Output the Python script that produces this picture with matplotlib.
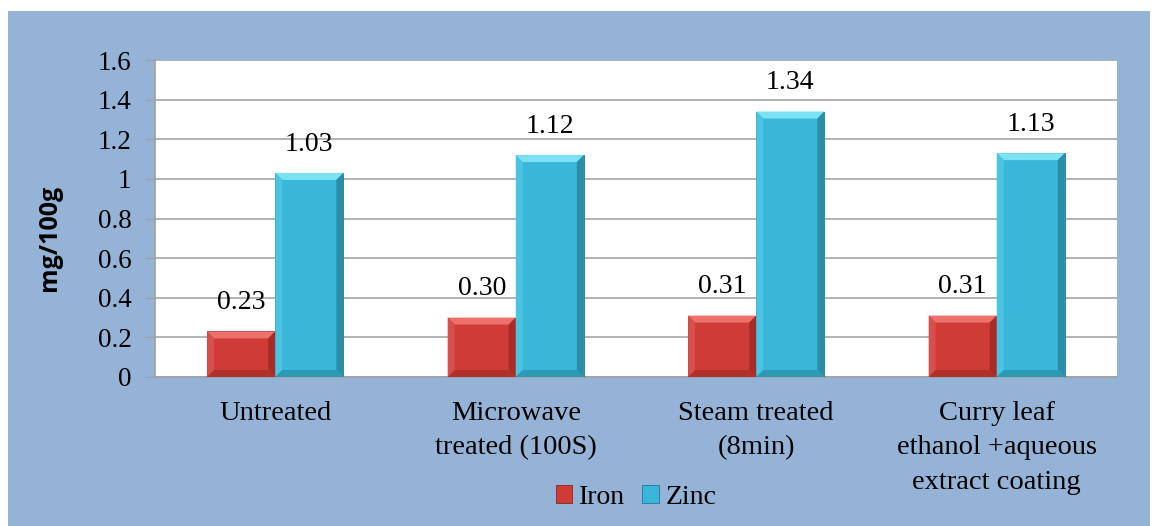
import numpy as np
import matplotlib.pyplot as plt
from matplotlib.patches import Rectangle, Polygon

categories = ['Untreated', 'Microwave\ntreated (100S)', 'Steam treated\n(8min)',
              'Curry leaf\nethanol +aqueous\nextract coating']
iron = [0.23, 0.30, 0.31, 0.31]
zinc = [1.03, 1.12, 1.34, 1.13]
iron_labels = ['0.23', '0.30', '0.31', '0.31']
zinc_labels = ['1.03', '1.12', '1.34', '1.13']

serif = ['Liberation Serif', 'DejaVu Serif']
blue_bg = '#95B3D7'

# face, top, left, right, bottom shades for the bevel look
red_shades = ['#CF3B37', '#EC716A', '#D8504B', '#A92B27', '#B0302C']
cyan_shades = ['#3AB7D8', '#7BE2F4', '#4AC4E1', '#2A8EA8', '#2D99B4']

fig = plt.figure(figsize=(11.58, 5.26), dpi=100, facecolor='white')
fig.patches.append(Rectangle((8 / 1158, 0), (1150 - 8) / 1158, (526 - 11) / 526,
                             transform=fig.transFigure, facecolor=blue_bg,
                             edgecolor='none', zorder=-5))

ax = fig.add_axes([155 / 1158, 1 - 377 / 526, (1117 - 155) / 1158, (377 - 60) / 526])
ax.set_facecolor('white')
ax.set_ylim(0, 1.6)
ax.set_xlim(-0.5, len(categories) - 0.5)

x = np.arange(len(categories))
w = 0.283
b1 = ax.bar(x - w / 2, iron, w, color=red_shades[0], edgecolor='#8E2522', linewidth=0.6,
            label='Iron', zorder=3)
b2 = ax.bar(x + w / 2, zinc, w, color=cyan_shades[0], edgecolor='#207A91', linewidth=0.6,
            label='Zinc', zorder=3)


def bevel(bars, shades, d=7):
    for r in bars:
        (x0, y0) = ax.transData.transform((r.get_x(), r.get_y()))
        (x1, y1) = ax.transData.transform((r.get_x() + r.get_width(), r.get_y() + r.get_height()))
        o = [(x0, y0), (x1, y0), (x1, y1), (x0, y1)]
        i = [(x0 + d, y0 + d), (x1 - d, y0 + d), (x1 - d, y1 - d), (x0 + d, y1 - d)]
        parts = [(o[3], o[2], i[2], i[3], shades[1]),
                 (o[0], o[3], i[3], i[0], shades[2]),
                 (o[1], o[2], i[2], i[1], shades[3]),
                 (o[0], o[1], i[1], i[0], shades[4])]
        for a, b, c, e, col in parts:
            ax.add_patch(Polygon([a, b, c, e], closed=True, transform=None,
                                 facecolor=col, edgecolor='none', zorder=4))


bevel(b1, red_shades)
bevel(b2, cyan_shades)

for xi, v, t in zip(x - w / 2, iron, iron_labels):
    ax.annotate(t, (xi, v), xytext=(0, 16), textcoords='offset points', ha='center',
                va='baseline', fontsize=20, family=serif)
for xi, v, t in zip(x + w / 2, zinc, zinc_labels):
    ax.annotate(t, (xi, v), xytext=(0, 16), textcoords='offset points', ha='center',
                va='baseline', fontsize=20, family=serif)

ax.set_yticks(np.arange(0, 1.61, 0.2))
ax.set_yticklabels(['0', '0.2', '0.4', '0.6', '0.8', '1', '1.2', '1.4', '1.6'],
                   fontsize=19.5, family=serif)
ax.set_xticks(x)
ax.set_xticklabels(categories, fontsize=20.5, family=serif, linespacing=1.52)
ax.tick_params(axis='x', length=0, pad=17)
ax.tick_params(axis='y', length=7, color='#A0A0A0', pad=10)
ax.yaxis.grid(True, color='#A6A6A6', linewidth=1.2, zorder=0)
ax.set_axisbelow(True)
for s in ['top', 'right']:
    ax.spines[s].set_visible(False)
ax.spines['left'].set_color('#A0A0A0')
ax.spines['bottom'].set_color('#A0A0A0')
ax.spines['left'].set_linewidth(1.2)
ax.spines['bottom'].set_linewidth(1.2)

fig.text(50 / 1158, 1 - 238 / 526, 'mg/100g', rotation=90, ha='center', va='center',
         fontsize=18, fontweight='bold', family=['Open Sans', 'DejaVu Sans'])

ax.legend(loc='center', bbox_to_anchor=(0.5, -0.38), ncol=2, frameon=False,
          prop={'family': serif, 'size': 20}, handlelength=0.6, handleheight=0.6,
          handletextpad=0.25, columnspacing=0.6)

fig.savefig('out.png', dpi=100, facecolor='white')
